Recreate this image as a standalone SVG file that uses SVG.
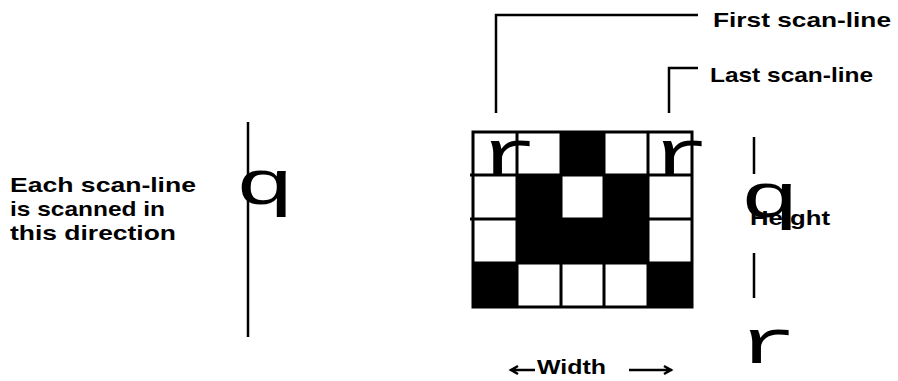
<svg xmlns="http://www.w3.org/2000/svg" width="898" height="381" viewBox="0 0 898 381">
<style>
.lbl{font-family:"Liberation Sans",Arial,sans-serif;font-weight:bold;font-size:21px;fill:#000}
.gl{font-family:"Liberation Mono","Courier New",monospace;font-size:62px;fill:#000}
.ln{stroke:#000;stroke-width:2.5;fill:none}
.grid{stroke:#000;stroke-width:3;fill:none}
</style>
<rect width="898" height="381" fill="#fff"/>
<g id="grid">
<rect x="473" y="132" width="219" height="175" fill="#fff"/>
<rect x="561" y="132" width="43" height="43" fill="#000"/>
<rect x="517" y="175" width="44" height="88" fill="#000"/>
<rect x="604" y="175" width="44" height="88" fill="#000"/>
<rect x="561" y="219" width="43" height="44" fill="#000"/>
<rect x="473" y="263" width="44" height="44" fill="#000"/>
<rect x="648" y="263" width="44" height="44" fill="#000"/>
<path class="grid" d="M473 132H692V307H473Z M517 132V307 M561 132V307 M604 132V307 M648 132V307 M470 175H692 M470 219H692 M473 263H692"/>
<text class="gl" transform="translate(479 174) scale(1.6 1)">r</text>
<text class="gl" transform="translate(651 174) scale(1.6 1)">r</text>
</g>
<g id="connectors">
<path class="ln" d="M496 113V15H698"/>
<path class="ln" d="M669 113V68H698"/>
<path class="ln" d="M248 122V337"/>
<path class="ln" d="M754 137V174 M754 253V298"/>
<path class="ln" d="M512 370H535 M518 366L511 370L518 374"/>
<path class="ln" d="M629 370H672 M664 366L671 370L664 374"/>
</g>
<g id="first-label"><text class="lbl" x="713" y="27" textLength="178" lengthAdjust="spacingAndGlyphs">First scan-line</text></g>
<g id="last-label"><text class="lbl" x="710" y="82" textLength="163" lengthAdjust="spacingAndGlyphs">Last scan-line</text></g>
<g id="direction-label">
<text class="lbl" x="10" y="192" textLength="186" lengthAdjust="spacingAndGlyphs">Each scan-line</text>
<text class="lbl" x="10" y="216" textLength="155" lengthAdjust="spacingAndGlyphs">is scanned in</text>
<text class="lbl" x="10" y="240" textLength="166" lengthAdjust="spacingAndGlyphs">this direction</text>
</g>
<g id="scan-direction"><text class="gl" transform="translate(235 204) scale(1.6 1)">q</text></g>
<g id="height">
<text class="gl" transform="translate(740 217) scale(1.6 1)">q</text>
<text class="lbl" x="750" y="225" textLength="80" lengthAdjust="spacingAndGlyphs">Height</text>
<text class="gl" transform="translate(738 363) scale(1.6 1)">r</text>
</g>
<g id="width"><text class="lbl" x="537" y="374" textLength="69" lengthAdjust="spacingAndGlyphs">Width</text></g>
</svg>
